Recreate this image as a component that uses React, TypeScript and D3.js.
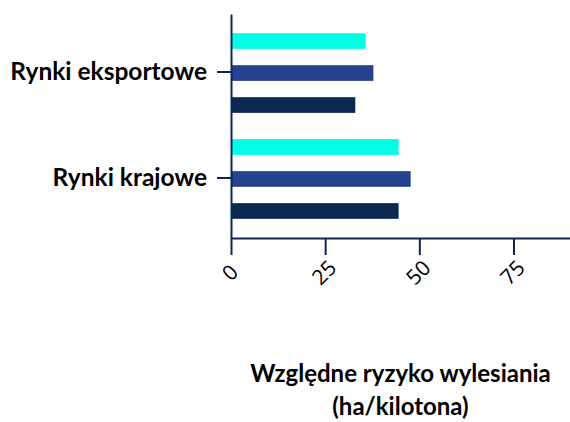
import React, { useRef, useEffect } from 'react';
import * as d3 from 'd3';

const categories = ['Rynki eksportowe', 'Rynki krajowe'];
const seriesNames = ['s1', 's2', 's3'];
// values per category, in series order (cyan, blue, navy)
const exportValues = [35.7, 37.8, 33.0];
const domesticValues = [44.5, 47.7, 44.5];
const xTicks = [0, 25, 50, 75];
const colors = ['#00ffe4', '#25418f', '#0b2851'];
const axisTitle = ['Względne ryzyko wylesiania', '(ha/kilotona)'];

const App = () => {
  const svgRef = useRef<SVGSVGElement>(null);

  useEffect(() => {
    const width = 570;
    const height = 422;
    const margin = { top: 14, right: 0, bottom: 184, left: 231 };
    const svg = d3.select(svgRef.current);
    svg.selectAll('*').remove();

    const rows = [exportValues, domesticValues];

    const x = d3.scaleLinear()
      .domain([0, 90])
      .range([margin.left, width - margin.right]);

    const y0 = d3.scaleBand()
      .domain(categories)
      .range([margin.top, height - margin.bottom])
      .paddingInner(0.094)
      .paddingOuter(0.104);

    const y1 = d3.scaleBand()
      .domain(seriesNames)
      .range([0, y0.bandwidth()])
      .paddingInner(0.51)
      .paddingOuter(0.255);

    // bars
    const groups = svg.append('g')
      .selectAll('g')
      .data(categories)
      .join('g')
      .attr('transform', d => `translate(0,${y0(d)})`);

    groups.selectAll('rect')
      .data((d, i) => rows[i].map((v, j) => ({ key: seriesNames[j], value: v, color: colors[j] })))
      .join('rect')
      .attr('x', x(0))
      .attr('y', d => y1(d.key))
      .attr('width', d => x(d.value) - x(0))
      .attr('height', y1.bandwidth())
      .attr('fill', d => d.color);

    // X axis
    const xAxis = svg.append('g')
      .attr('transform', `translate(0,${height - margin.bottom})`)
      .call(d3.axisBottom(x).tickValues(xTicks).tickSize(17).tickSizeOuter(0));
    xAxis.select('.domain').attr('stroke', '#0b2851').attr('stroke-width', 2);
    xAxis.selectAll('.tick line').attr('stroke', '#0b2851').attr('stroke-width', 2);
    xAxis.selectAll('.tick text')
      .attr('y', 0)
      .attr('dy', null)
      .attr('transform', 'translate(-2,34) rotate(-45)')
      .attr('text-anchor', 'middle')
      .attr('dominant-baseline', 'central')
      .attr('fill', '#000')
      .style('font-family', '"Open Sans", sans-serif')
      .style('font-size', '21px');

    // Y axis
    const yAxis = svg.append('g')
      .attr('transform', `translate(${margin.left},0)`)
      .call(d3.axisLeft(y0).tickSize(14).tickSizeOuter(0).tickPadding(10));
    yAxis.select('.domain').attr('stroke', '#0b2851').attr('stroke-width', 2);
    yAxis.selectAll('.tick line').attr('stroke', '#0b2851').attr('stroke-width', 2);
    yAxis.selectAll('.tick').attr('transform', d => `translate(0,${(y0(d as string) ?? 0) + y0.bandwidth() / 2 - 1})`);
    yAxis.selectAll('.tick text')
      .attr('fill', '#000')
      .style('font-family', 'Lato, sans-serif')
      .style('font-weight', 'bold')
      .style('font-size', '24.5px');

    // axis title
    const cx = (x(0) + width) / 2;
    svg.append('text')
      .attr('text-anchor', 'middle')
      .style('font-family', 'Lato, sans-serif')
      .style('font-weight', 'bold')
      .style('font-size', '24px')
      .attr('fill', '#000')
      .selectAll('tspan')
      .data(axisTitle)
      .join('tspan')
      .attr('x', cx)
      .attr('y', (d, i) => 382 + i * 33)
      .text(d => d);
  }, []);

  return (
    <svg
      ref={svgRef}
      width={570}
      height={422}
      style={{ position: 'absolute', left: 0, top: 0, background: '#fff' }}
    />
  );
};

export default App;
